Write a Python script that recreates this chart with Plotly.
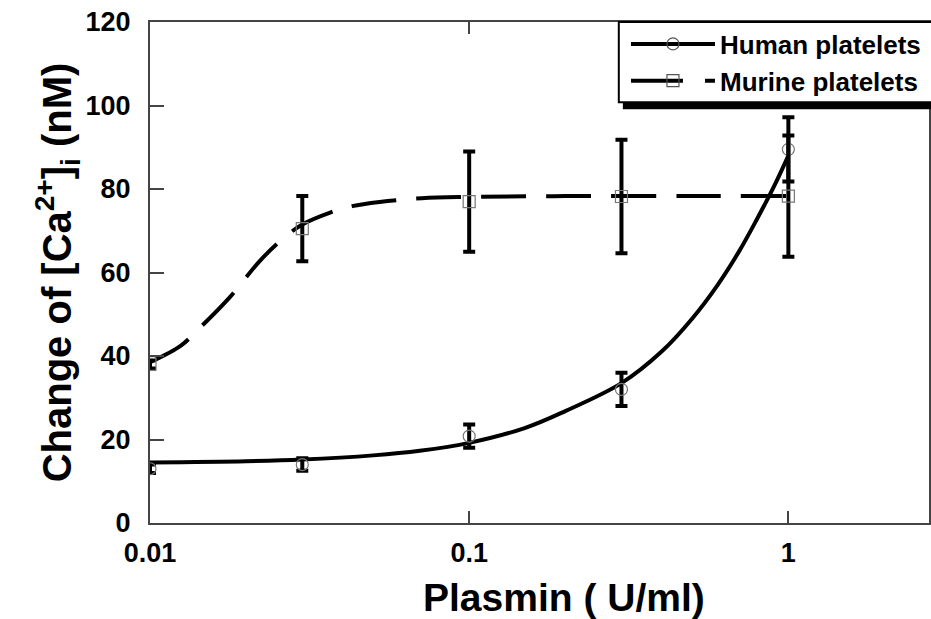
import plotly.graph_objects as go

# ---- data ----
plasmin = [0.01, 0.03, 0.1, 0.3, 1.0]
human_mean = [13.0, 14.0, 20.8, 32.0, 89.5]
human_err = [1.0, 1.5, 2.8, 4.0, 7.7]
murine_mean = [38.0, 70.5, 77.0, 78.2, 78.3]
murine_err = [1.0, 7.8, 12.0, 13.6, 14.5]

# fitted curves
human_fit_x = [0.01, 0.02, 0.03, 0.05, 0.07, 0.1, 0.15, 0.2, 0.3, 0.4, 0.5, 0.6, 0.7, 0.8, 0.9, 1.0]
human_fit_y = [14.5, 14.8, 15.2, 16.2, 17.3, 19.2, 22.8, 26.8, 33.5, 41.0, 49.0, 57.0, 65.0, 73.0, 80.5, 88.0]
murine_fit_x = [0.01, 0.0125, 0.014, 0.0178, 0.0221, 0.026, 0.03, 0.0365, 0.043, 0.0524, 0.071, 0.1, 0.2, 0.5, 1.0]
murine_fit_y = [38.5, 42.5, 46.0, 54.1, 62.8, 68.0, 71.5, 74.3, 75.9, 76.9, 77.8, 78.1, 78.3, 78.3, 78.3]

x_ticks = [0.01, 0.1, 1]
x_ticktext = ["0.01", "0.1", "1"]
y_ticks = [0, 20, 40, 60, 80, 100, 120]

FONT = "Liberation Sans, Arial, sans-serif"
DASH = "45px,20px"

fig = go.Figure()

fig.add_trace(go.Scatter(x=human_fit_x, y=human_fit_y, mode="lines",
                         line=dict(color="black", width=4, shape="spline"),
                         showlegend=False, hoverinfo="skip"))
fig.add_trace(go.Scatter(x=murine_fit_x, y=murine_fit_y, mode="lines",
                         line=dict(color="black", width=4, shape="spline", dash=DASH),
                         showlegend=False, hoverinfo="skip"))

fig.add_trace(go.Scatter(x=plasmin, y=human_mean, mode="markers",
                         marker=dict(symbol="circle-open", size=12, color="#777", line=dict(width=1.2)),
                         error_y=dict(type="data", array=human_err, color="black", thickness=4, width=6),
                         showlegend=False))
fig.add_trace(go.Scatter(x=plasmin, y=murine_mean, mode="markers",
                         marker=dict(symbol="square-open", size=12, color="#777", line=dict(width=1.2)),
                         error_y=dict(type="data", array=murine_err, color="black", thickness=4, width=6),
                         showlegend=False))

# legend entries
fig.add_trace(go.Scatter(x=[None], y=[None], mode="lines+markers", name="Human platelets",
                         line=dict(color="black", width=4),
                         marker=dict(symbol="circle-open", size=12, color="#555", line=dict(width=1.2))))
fig.add_trace(go.Scatter(x=[None], y=[None], mode="lines+markers", name="Murine platelets",
                         line=dict(color="black", width=4, dash="52px,22px"),
                         marker=dict(symbol="square-open", size=12, color="#555", line=dict(width=1.2))))

# legend frame with shadow
fig.add_shape(type="rect", xref="paper", yref="paper", x0=0.607, x1=1.05, y0=0.826, y1=0.846,
              fillcolor="black", line=dict(width=0), layer="above")
fig.add_shape(type="rect", xref="paper", yref="paper", x0=0.6018, x1=1.05, y0=0.840, y1=1.0,
              fillcolor="white", line=dict(color="black", width=2), layer="above")

# x-axis title
fig.add_annotation(text="Plasmin ( U/ml)", xref="paper", yref="paper", x=0.532, y=-0.148,
                   xanchor="center", yanchor="middle", showarrow=False,
                   font=dict(size=39, family=FONT, weight="bold", color="black"))

fig.update_layout(
    width=931, height=619,
    margin=dict(l=150, r=0, t=22, b=96),
    paper_bgcolor="white", plot_bgcolor="white",
    font=dict(family=FONT, color="black"),
    showlegend=True,
    legend=dict(x=0.611, y=1.003, xanchor="left", yanchor="top",
                bgcolor="rgba(0,0,0,0)", borderwidth=0,
                font=dict(size=26, family=FONT, weight="bold", color="black"),
                itemwidth=84, tracegroupgap=0),
    xaxis=dict(type="log", range=[-2, 0.4406], tickvals=x_ticks, ticktext=x_ticktext,
               ticks="inside", ticklen=12, tickwidth=2, tickcolor="#444",
               showline=True, linecolor="#444", linewidth=2, mirror="ticks",
               showgrid=False, zeroline=False, ticklabelstandoff=5,
               tickfont=dict(size=27, family=FONT, weight="bold")),
    yaxis=dict(range=[0, 120], tickvals=y_ticks,
               ticks="inside", ticklen=14, tickwidth=2, tickcolor="#444",
               showline=True, linecolor="#444", linewidth=2, mirror=True,
               showgrid=False, zeroline=False, ticklabelstandoff=12,
               tickfont=dict(size=27, family=FONT, weight="bold"),
               title=dict(text="Change of [Ca<sup>2+</sup>]<sub>i</sub> (nM)", standoff=0,
                          font=dict(size=40, family=FONT, weight="bold"))),
)

fig.write_html("out.html")
